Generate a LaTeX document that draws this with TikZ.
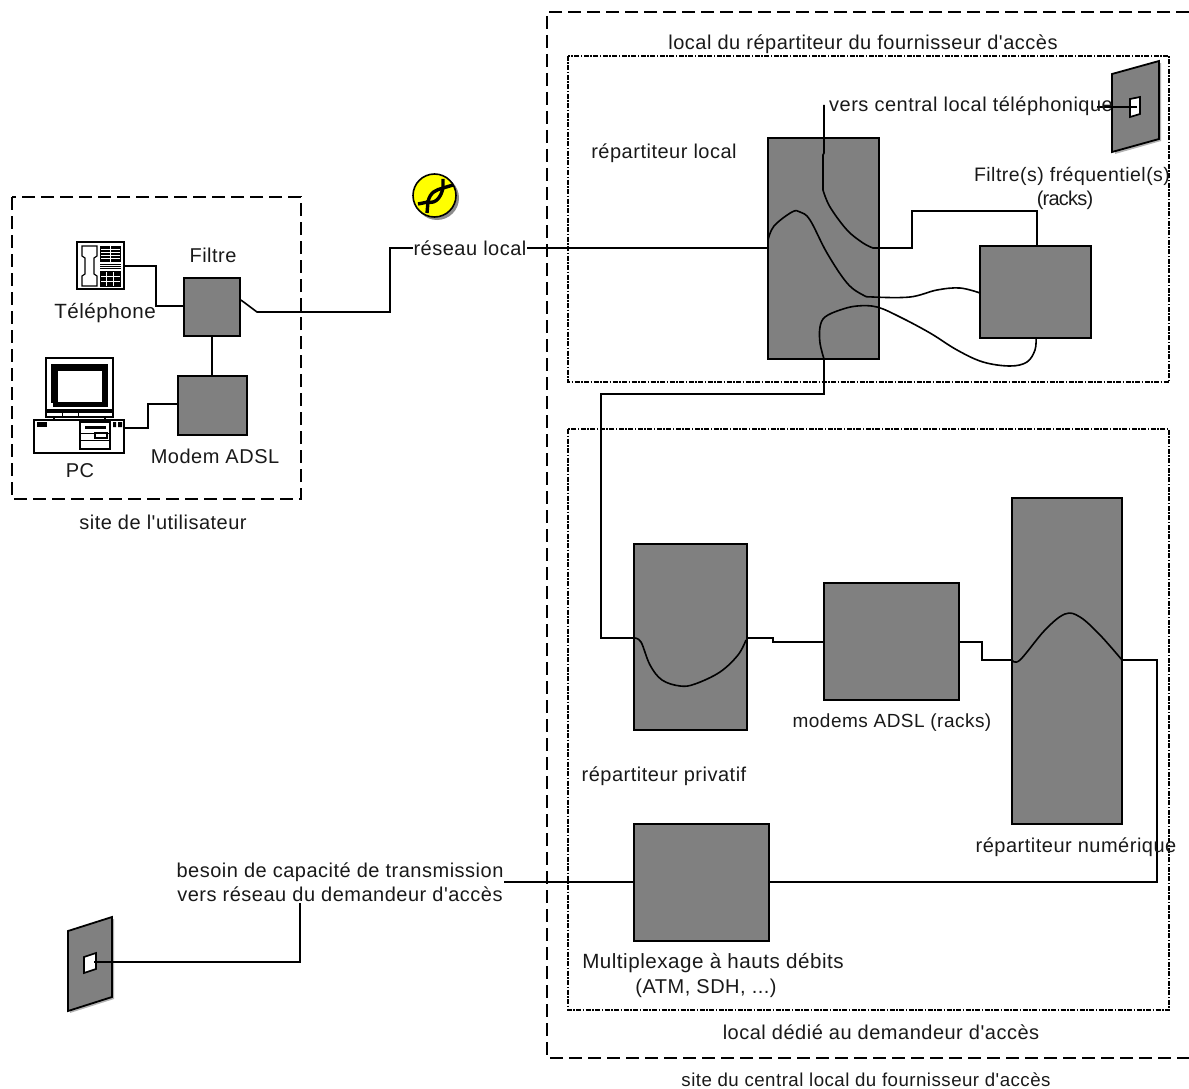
\documentclass[tikz,border=0pt]{standalone}
\usepackage{fontspec}
\setmainfont[Ligatures=TeXOff,LetterSpace=2.5]{Liberation Sans}
\newfontfamily\tightfont[Ligatures=TeXOff,LetterSpace=-4]{Liberation Sans}
\tikzset{
  rack/.style={draw=black,fill=gray808,line width=1.7pt,inner sep=0pt,minimum width=0pt},
  wire/.style={draw=black,line width=1.6pt,line join=miter},
  lab/.style={font=\fontsize{20}{24}\selectfont,inner sep=0pt,text=black!90,yshift=-.7pt},
  labw/.style={lab,fill=white,inner xsep=1pt,inner ysep=1pt},
  zone/.style={draw=black,line width=1.5pt,dash pattern=on 13pt off 6pt},
  room/.style={draw=black,line width=1.3pt,dash pattern=on 5pt off 1.5pt on 1.5pt off 1.5pt},
  iconline/.style={draw=black,line width=1.5pt,fill=white},
  plate/.style={draw=black,fill=gray808,line width=1.8pt},
  plateshadow/.style={fill=black!30,draw=none},
  hole/.style={draw=black,fill=white,line width=1.7pt}
}
\definecolor{gray808}{HTML}{808080}
\definecolor{bugyellow}{HTML}{FFFF00}
\newcommand{\rackbox}[5]{\node[rack,anchor=north west,minimum width=#4pt,minimum height=#5pt,xshift=-.8pt,yshift=.8pt] (#1) at (#2,#3) {};}
\begin{document}
\begin{tikzpicture}[x=1pt,y=-1pt]
\useasboundingbox (0,0) rectangle (1189,1089);
% zones
\draw[zone] (12,197) rectangle (301,499);
\draw[zone] (1189,12) -- (547,12) -- (547,1058) -- (1189,1058);
\draw[room] (568,56) rectangle (1169,382);
\draw[room] (568,429) rectangle (1169,1010);
% racks
\rackbox{filtre}{184}{278}{56}{58}
\rackbox{modem}{178}{376}{69}{59}
\rackbox{repl}{768}{138}{111}{221}
\rackbox{ffreq}{980}{246}{111}{92}
\rackbox{repp}{634}{544}{113}{186}
\rackbox{mrack}{824}{583}{135}{117}
\rackbox{repn}{1012}{498}{110}{326}
\rackbox{mux}{634}{824}{135}{117}
% coordinates
\coordinate (phoneport) at (124,266);
\coordinate (pcport) at (124,428);
\coordinate (holeA) at (1137,107);
\coordinate (holeB) at (94,962);
\coordinate (lineS) at (1097,107);
\coordinate (vertop) at (824,105);
% plates
\fill[plateshadow] (1115,76) -- (1161,63) -- (1161,141) -- (1115,154) -- cycle;
\draw[plate] (1112,74) -- (1159,61) -- (1159,139) -- (1112,152) -- cycle;
\draw[hole] (1130,99) -- (1140,97) -- (1140,114) -- (1130,117) -- cycle;
\fill[plateshadow] (70,933) -- (114,919) -- (114,999) -- (70,1013) -- cycle;
\draw[plate] (68,931) -- (112,917) -- (112,997) -- (68,1011) -- cycle;
\draw[hole] (84,957) -- (96,953) -- (96,969) -- (84,973) -- cycle;
% phone
\draw[iconline] (77,242) rectangle (124,289);
\draw[line width=1.2pt,fill=white] (82,246) -- (97,246) -- (97,256) -- (94,258) -- (94,274) -- (97,276) -- (97,286) -- (82,286) -- (82,276) -- (85,274) -- (85,258) -- (82,256) -- cycle;
\fill (100,246) rectangle (121,262);
\foreach \yy in {249,252,255,258} \draw[white,line width=.8pt] (101,\yy) -- (120,\yy);
\draw[white,line width=.8pt] (110,246) -- (110,262);
\foreach \yy in {264,266,268} \draw[line width=.9pt] (100,\yy) -- (121,\yy);
\fill (100,271) rectangle (121,287);
\foreach \yy in {276,281} \draw[white,line width=.9pt] (101,\yy) -- (120,\yy);
\foreach \xx in {106,113} \draw[white,line width=.9pt] (\xx,272) -- (\xx,286);
% pc
\draw[iconline] (46,358) rectangle (113,410);
\fill (51,364) rectangle (108,407);
\fill[white] (58,371) rectangle (102,402);
\fill[white] (51,403) rectangle (53,407);
\draw[iconline] (46,412) rectangle (113,417);
\draw[line width=1pt] (62,412)--(62,417) (78,412)--(78,417);
\draw[line width=1.2pt] (54,417)--(54,420) (105,417)--(105,420);
\draw[iconline] (34,420) rectangle (124,453);
\fill (37,422) rectangle (47,427);
\draw[line width=1.2pt,fill=white] (80,422) rectangle (110,449);
\fill (85,426) rectangle (106,429);
\draw[line width=.9pt] (80,433)--(110,433) (80,440)--(110,440);
\draw[line width=1.1pt] (95,433) rectangle (107,438);
\fill (113,422) rectangle (116,427) (118,422) rectangle (122,427);
% bug
\fill[black!45] (437,198) circle (22);
\draw[fill=bugyellow,line width=1.6pt] (434.5,195.5) circle (21.5);
\begin{scope}[line width=3.4pt]
\draw (418,204) -- (428,202) .. controls (430,192) and (436,190) .. (443,188) -- (453,185);
\draw (427,213) -- (428,202) .. controls (436,204) and (441,197) .. (443,188) -- (443,179);
\end{scope}
% connectors
\draw[wire] (phoneport) -- (156,266) -- (156,306) -- (filtre.west |- 0,306);
\draw[wire] (filtre.east |- 0,300) -- (257,312) -- (390,312) -- (390,248) -- (repl.west |- 0,248);
\draw[wire] (filtre.south) -- (filtre.south |- modem.north);
\draw[wire] (pcport) -- (148,428) -- (148,404) -- (modem.west |- 0,404);
% répartiteur local: curve 1
\draw[wire] (vertop) -- (824,153) -- (823,155) -- (823,190)
  -- plot[smooth,tension=.6] coordinates {(823,190) (830,207) (847,230) (863,243) (873,248)}
  -- (912,248) -- (912,211) -- (1037,211) -- (ffreq.north -| 1037,0);
\draw[wire] (holeA) -- (lineS);
% curve 2
\draw[wire] plot[smooth,tension=.6] coordinates {(768,240) (774,226) (792,212) (800,212) (810,220) (827,253) (847,283) (863,295) (873,297) (910,297) (937,290) (960,288) (980,293)};
% curve 3
\draw[wire] plot[smooth,tension=.6] coordinates {(1036,338) (1035,350) (1027,362) (1010,366) (983,362) (957,350) (930,333) (900,317) (877,307) (857,306) (840,310) (825,317) (820,327) (820,343) (824,359)};
\draw[wire] (824,359) -- (824,394) -- (601,394) -- (601,638) -- (repp.west |- 0,638);
% bas
\draw[wire] plot[smooth,tension=.6] coordinates {(634,638) (641,642) (650,665) (662,680) (680,686) (695,684) (720,672) (738,655) (746,640)};
\draw[wire] (repp.east |- 0,638) -- (773,638) -- (773,642) -- (mrack.west |- 0,642);
\draw[wire] (mrack.east |- 0,642) -- (982,642) -- (982,660) -- (repn.west |- 0,660);
\draw[wire] plot[smooth,tension=.6] coordinates {(1012,660) (1020,660) (1045,630) (1065,614) (1080,617) (1100,635) (1122,660)};
\draw[wire] (repn.east |- 0,660) -- (1157,660) -- (1157,882) -- (mux.east |- 0,882);
\draw[wire] (mux.west |- 0,882) -- (300,882) -- (300,962) -- (holeB);
% labels
\node[lab] (t1) at (863,44) {local du répartiteur du fournisseur d'accès};
\node[lab] (t2) at (664,153) {répartiteur local};
\node[lab,anchor=west] (t3) at (829,106) {vers central local téléphonique};
\node[lab,font=\fontsize{19.5}{24}\selectfont] (t4) at (1072,176) {Filtre(s) fréquentiel(s)};
\node[lab] (t5) at (1065,200) {\tightfont (racks)};
\node[lab] (t6) at (213,255) {Filtre};
\node[lab,font=\fontsize{20.6}{24}\selectfont] (t7) at (105,312) {Téléphone};
\node[lab] (t8) at (215,456) {Modem ADSL};
\node[lab] (t9) at (80,470) {PC};
\node[lab] (t10) at (163,522) {site de l'utilisateur};
\node[labw] (t11) at (470,248) {réseau local};
\node[lab,font=\fontsize{19}{24}\selectfont] (t12) at (892,722) {modems ADSL (racks)};
\node[lab] (t13) at (664,776) {répartiteur privatif};
\node[lab] (t14) at (1076,847) {répartiteur numérique};
\node[labw,align=center] (t15) at (340,882) {besoin de capacité de transmission\\vers réseau du demandeur d'accès};
\node[lab,font=\fontsize{20.6}{24}\selectfont] (t16) at (713,962) {Multiplexage à hauts débits};
\node[lab] (t16b) at (706,988) {(ATM, SDH, ...)};
\node[lab] (t17) at (881,1032) {local dédié au demandeur d'accès};
\node[lab,font=\fontsize{18.7}{22}\selectfont] (t18) at (866,1078.5) {site du central local du fournisseur d'accès};
\end{tikzpicture}
\end{document}
